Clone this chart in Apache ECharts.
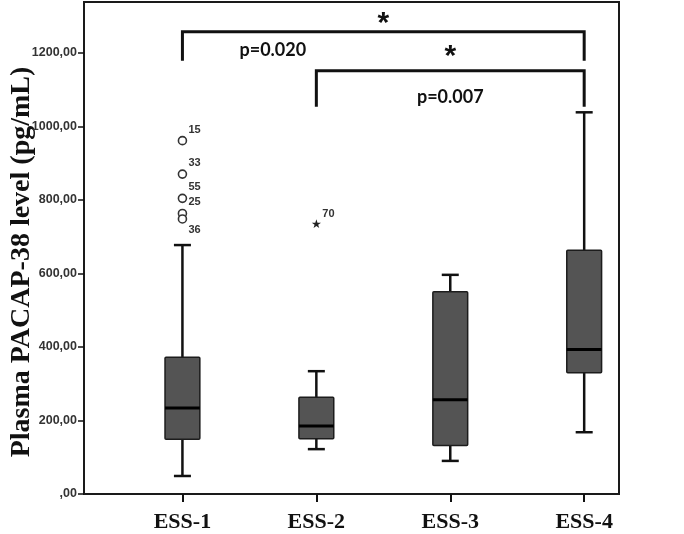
<!DOCTYPE html>
<html><head><meta charset="utf-8">
<script src="https://cdn.jsdelivr.net/npm/echarts@6/dist/echarts.min.js"></script>
<style>html,body{margin:0;padding:0;background:#fff}#c{width:684px;height:534px}</style>
</head><body><div id="c"></div>
<script>
const categories = ['ESS-1', 'ESS-2', 'ESS-3', 'ESS-4'];
const yAxisTitle = 'Plasma PACAP-38 level (pg/mL)';
// per group: lower whisker, Q1, median, Q3, upper whisker
const whiskerLow = [49, 122, 90, 168];
const q1Values = [149, 150, 132, 330];
const medianValues = [234, 185, 256, 393];
const q3Values = [372, 263, 550, 663];
const whiskerHigh = [677, 334, 596, 1038];
const outlierGroup = [0, 0, 0, 0, 0, 1];
const outlierValues = [961, 870, 804, 763, 748, 733];
const outlierIds = ['15', '33', '55', '25', '36', '70'];
const outlierKinds = ['circle', 'circle', 'circle', 'circle', 'circle', 'extreme'];
const yTicks = [0, 200, 400, 600, 800, 1000, 1200];
// significance brackets: from group, to group, bar level, foot level
const bracketFrom = [0, 1];
const bracketTo = [3, 3];
const bracketLevel = [1257, 1151];
const bracketFoot = [1178, 1053];
const bracketStars = ['*', '*'];
const bracketP = ['p=0.020', 'p=0.007'];

const chart = echarts.init(document.getElementById('c'));

const boxData = categories.map((c, i) => [i + 1, whiskerLow[i], q1Values[i], medianValues[i], q3Values[i], whiskerHigh[i]]);
const outData = outlierValues.map((v, i) => [outlierGroup[i] + 1, v, i]);
const brData = bracketFrom.map((f, i) => [f + 1, bracketTo[i] + 1, bracketLevel[i], bracketFoot[i], i]);

function renderBox(params, api) {
  const x = api.value(0);
  const pLo = api.coord([x, api.value(1)]);
  const pQ1 = api.coord([x, api.value(2)]);
  const pMed = api.coord([x, api.value(3)]);
  const pQ3 = api.coord([x, api.value(4)]);
  const pHi = api.coord([x, api.value(5)]);
  const bw = api.size([0.26, 0])[0];
  const cw = api.size([0.127, 0])[0];
  const cx = pMed[0];
  const ls = {stroke: '#111', lineWidth: 2.5};
  return {
    type: 'group',
    children: [
      {type: 'line', shape: {x1: cx, y1: pLo[1], x2: cx, y2: pQ1[1]}, style: ls},
      {type: 'line', shape: {x1: cx, y1: pQ3[1], x2: cx, y2: pHi[1]}, style: ls},
      {type: 'line', shape: {x1: cx - cw / 2, y1: pLo[1], x2: cx + cw / 2, y2: pLo[1]}, style: ls},
      {type: 'line', shape: {x1: cx - cw / 2, y1: pHi[1], x2: cx + cw / 2, y2: pHi[1]}, style: ls},
      {type: 'rect', shape: {x: cx - bw / 2, y: pQ3[1], width: bw, height: pQ1[1] - pQ3[1], r: 1},
        style: {fill: '#545454', stroke: '#1c1c1c', lineWidth: 1.5}},
      {type: 'line', shape: {x1: cx - bw / 2, y1: pMed[1], x2: cx + bw / 2, y2: pMed[1]}, style: {stroke: '#000', lineWidth: 3}}
    ]
  };
}

function renderOutlier(params, api) {
  const p = api.coord([api.value(0), api.value(1)]);
  const i = api.value(2);
  const kind = outlierKinds[i];
  const labelDy = outlierIds[i] === '36' ? 11 : -11;
  const children = [];
  const lf = 'bold 11px "Liberation Sans", Arial, sans-serif';
  if (kind === 'circle') {
    children.push({type: 'circle', shape: {cx: p[0], cy: p[1], r: 4}, style: {fill: '#fff', stroke: '#333', lineWidth: 1.6}});
    children.push({type: 'text', x: p[0] + 6, y: p[1] + labelDy,
      style: {text: outlierIds[i], fill: '#333', font: lf, align: 'left', verticalAlign: 'middle'}});
  } else {
    children.push({type: 'text', x: p[0], y: p[1],
      style: {text: '★', fill: '#222', font: '12px "DejaVu Sans", sans-serif', align: 'center', verticalAlign: 'middle'}});
    children.push({type: 'text', x: p[0] + 6, y: p[1] - 10,
      style: {text: outlierIds[i], fill: '#333', font: lf, align: 'left', verticalAlign: 'middle'}});
  }
  return {type: 'group', children};
}

function renderBracket(params, api) {
  const a = api.coord([api.value(0), api.value(2)]);
  const b = api.coord([api.value(1), api.value(2)]);
  const fa = api.coord([api.value(0), api.value(3)]);
  const k = api.value(4);
  const mid = (a[0] + b[0]) / 2;
  const fontP = 'bold 18px Lato, "Open Sans", sans-serif';
  const pX = k === 0 ? a[0] + (mid - a[0]) * 0.45 : mid;
  const pY = k === 0 ? a[1] + 18 : a[1] + 26;
  const sY = k === 0 ? a[1] - 15 : a[1] - 21;
  return {
    type: 'group',
    children: [
      {type: 'polyline', shape: {points: [[a[0], fa[1]], [a[0], a[1]], [b[0], b[1]], [b[0], fa[1]]]}, style: {stroke: '#111', lineWidth: 3, fill: null}},
      {type: 'text', x: mid, y: sY + 7, style: {text: bracketStars[k], fill: '#111', font: 'bold 30px "Liberation Sans", Arial, sans-serif', align: 'center', verticalAlign: 'middle'}},
      {type: 'text', x: pX, y: pY, style: {text: bracketP[k], fill: '#111', font: fontP, align: 'center', verticalAlign: 'middle'}}
    ]
  };
}

chart.setOption({
  animation: false,
  backgroundColor: '#fff',
  grid: {left: 84, right: 65, top: 2, bottom: 40, containLabel: false, outerBoundsMode: 'none',
    show: true, borderColor: '#1a1a1a', borderWidth: 2, backgroundColor: 'transparent'},
  graphic: [{
    type: 'text', x: 22, y: 262, rotation: Math.PI / 2,
    style: {text: yAxisTitle, align: 'center', verticalAlign: 'middle', fill: '#111',
      font: 'bold 28px "Liberation Serif", "Times New Roman", serif'}
  }],
  xAxis: {
    type: 'value', min: 0.265, max: 4.26,
    axisLine: {show: false}, splitLine: {show: false},
    axisTick: {show: true, customValues: [1, 2, 3, 4], length: 8, lineStyle: {color: '#111', width: 2}},
    axisLabel: {customValues: [1, 2, 3, 4], formatter: v => categories[Math.round(v) - 1] || '', margin: 17,
      fontFamily: '"Liberation Serif", "Times New Roman", serif', fontWeight: 'bold', fontSize: 22, color: '#111'}
  },
  yAxis: {
    type: 'value', min: 0, max: 1338,
    axisLine: {show: false}, splitLine: {show: false},
    axisTick: {show: true, customValues: yTicks, length: 6, lineStyle: {color: '#111', width: 1.5}},
    axisLabel: {customValues: yTicks, formatter: v => (v === 0 ? ',00' : v + ',00'), margin: 7,
      fontFamily: '"Liberation Sans", Arial, sans-serif', fontWeight: 'bold', fontSize: 12.5, color: '#333'}
  },
  series: [
    {type: 'custom', data: boxData, renderItem: renderBox, encode: {x: 0, y: [1, 2, 3, 4, 5]}, clip: false},
    {type: 'custom', data: outData, renderItem: renderOutlier, encode: {x: 0, y: 1}, clip: false},
    {type: 'custom', data: brData, renderItem: renderBracket, encode: {x: [0, 1], y: [2, 3]}, clip: false}
  ]
});
</script></body></html>
